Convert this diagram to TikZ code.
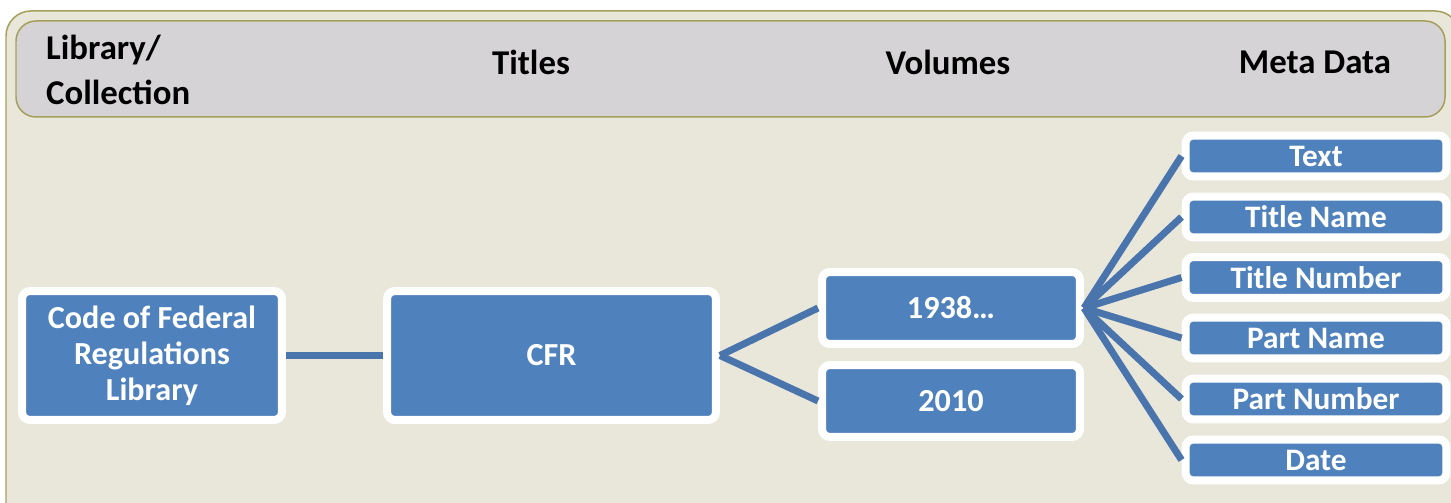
\documentclass[tikz,border=0pt]{standalone}
\usepackage{fontspec}
\setmainfont{Carlito}
\usetikzlibrary{positioning}
\definecolor{boxblue}{HTML}{4F81BD}
\definecolor{lineblue}{HTML}{4A74AC}
\definecolor{paper}{HTML}{E9E7DA}
\definecolor{olive}{HTML}{A69F5C}
\definecolor{headgray}{HTML}{D5D3D6}
\tikzset{
	level/.style={draw=white, line width=0.16cm, fill=boxblue, rounded corners=0.16cm,
		text=white, font=\bfseries\fontsize{18.3}{20.5}\selectfont, align=center, inner sep=0pt},
	meta/.style={level, minimum width=5.22cm, minimum height=0.82cm,
		font=\bfseries\fontsize{17.8}{20}\selectfont},
	link/.style={draw=lineblue, line width=0.14cm},
	head/.style={font=\bfseries\fontsize{19.8}{25.6}\selectfont, text=black}
}

\begin{document}
\begin{tikzpicture}[x=0.02cm, y=-0.02cm]
		%%%%% START %%%%%
		\useasboundingbox (0,0) rectangle (1451,503);
		\clip (0,0) rectangle (1451,503);
		
		\draw[fill=white, draw=none] (0,0) rectangle (1451,503);
		\draw[fill=paper, draw=olive, line width=0.03cm, rounded corners=0.5cm] (6,11) rectangle (1460,540);
		\draw[fill=headgray, draw=olive, line width=0.03cm, rounded corners=0.4cm] (16,21) rectangle (1445,117);
		
		% column headings
		\node[head, align=left, anchor=west] (hlib) at (40,70) {Library/\\Collection};
		\node[head] (htitles) at (531,62) {Titles};
		\node[head] (hvol) at (948,62) {Volumes};
		\node[head] (hmeta) at (1315,62) {Meta Data};
		
		% boxes
		\node[level, minimum width=5.2cm, minimum height=2.58cm] (lib) at (152,355.5) {Code of Federal\\Regulations\\Library};
		\node[level, minimum width=6.58cm, minimum height=2.58cm] (cfr) at (551.5,355.5) {CFR};
		\node[level, minimum width=5.16cm, minimum height=1.44cm] (v1938) at (951,308) {1938\ldots};
		\node[level, minimum width=5.16cm, minimum height=1.44cm] (v2010) at (951,401) {2010};
		
		\node[meta] (text) at (1316,156) {Text};
		\node[meta] (tname) at (1316,217) {Title Name};
		\node[meta] (tnum) at (1316,277.5) {Title Number};
		\node[meta] (pname) at (1316,338) {Part Name};
		\node[meta] (pnum) at (1316,399) {Part Number};
		\node[meta] (date) at (1316,460) {Date};
		
		% connectors
		\draw[link] (lib.east) -- (cfr.west);
		\draw[link] (cfr.east) -- (v1938.west);
		\draw[link] (cfr.east) -- (v2010.west);
		\foreach \m in {text,tname,tnum,pname,pnum,date}
			\draw[link] (v1938.east) -- (\m.west);
		
		%%%%% END %%%%%
	\end{tikzpicture}
\end{document}
